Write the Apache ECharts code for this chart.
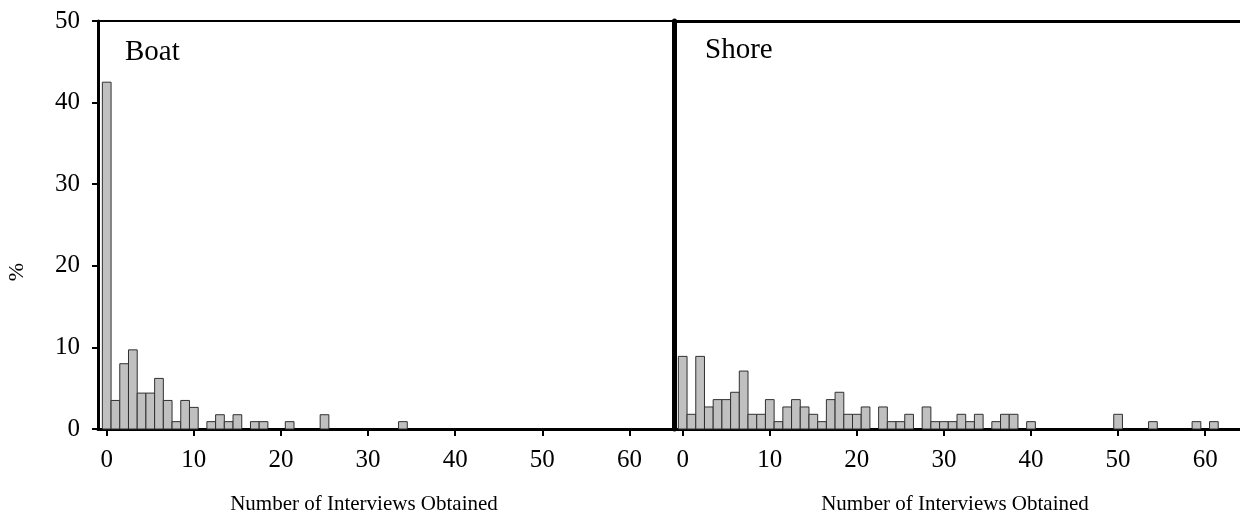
<!DOCTYPE html>
<html lang="en">
<head>
	<meta charset="UTF-8">
	<title>Number of Interviews Obtained</title>
	<script src="https://cdn.jsdelivr.net/npm/echarts@6/dist/echarts.min.js"></script>
	<style>
		html, body { margin: 0; padding: 0; background: #fff; }
		#chart { width: 1240px; height: 523px; }
	</style>
</head>
<body>
<div id="chart"></div>
<script>
	// interviews per trip (x) and share of trips in % (y)
	var boatCounts = [0, 1, 2, 3, 4, 5, 6, 7, 8, 9, 10, 12, 13, 14, 15, 17, 18, 21, 25, 34];
	var boatPct = [42.5, 3.5, 8.0, 9.7, 4.4, 4.4, 6.2, 3.5, 0.9, 3.5, 2.65, 0.9, 1.75, 0.9, 1.75, 0.9, 0.9, 0.9, 1.75, 0.9];

	var shoreCounts = [0, 1, 2, 3, 4, 5, 6, 7, 8, 9, 10, 11, 12, 13, 14, 15, 16, 17, 18, 19, 20, 21,
		23, 24, 25, 26, 28, 29, 30, 31, 32, 33, 34, 36, 37, 38, 40, 50, 54, 59, 61];
	var shorePct = [8.9, 1.8, 8.9, 2.7, 3.6, 3.6, 4.5, 7.1, 1.8, 1.8, 3.6, 0.9, 2.7, 3.6, 2.7, 1.8, 0.9, 3.6, 4.5, 1.8, 1.8, 2.7,
		2.7, 0.9, 0.9, 1.8, 2.7, 0.9, 0.9, 0.9, 1.8, 0.9, 1.8, 0.9, 1.8, 1.8, 0.9, 1.8, 0.9, 0.9, 0.9];

	var xTicks = [0, 10, 20, 30, 40, 50, 60];
	var panelNames = ['Boat', 'Shore'];
	var xTitle = 'Number of Interviews Obtained';
	var yTitle = '%';

	var font = '"Liberation Serif", "DejaVu Serif", serif';

	function pairs(xs, ys) {
		var out = [];
		for (var i = 0; i < xs.length; i++) out.push([xs[i], ys[i]]);
		return out;
	}

	// every bar spans one unit on the x axis, like a histogram
	function renderBar(params, api) {
		var x = api.value(0), y = api.value(1);
		var p0 = api.coord([x - 0.5, y]);
		var p1 = api.coord([x + 0.5, 0]);
		return {
			type: 'rect',
			shape: { x: p0[0], y: p0[1], width: p1[0] - p0[0], height: p1[1] - p0[1] },
			style: { fill: '#c0c0c0', stroke: '#303030', lineWidth: 1 }
		};
	}

	function xAxis(idx, max) {
		return {
			type: 'value', gridIndex: idx, min: -1, max: max,
			axisLine: { show: true, onZero: false, lineStyle: { color: '#000', width: 3 } },
			axisTick: { show: true, customValues: xTicks, length: 7, lineStyle: { color: '#000', width: 2 } },
			axisLabel: { customValues: xTicks, color: '#000', fontFamily: font, fontSize: 25, margin: 19 },
			splitLine: { show: false }
		};
	}

	// plain line on top of the shore panel (it has no right-hand border)
	function topLine(idx, max) {
		return {
			type: 'value', gridIndex: idx, position: 'top', min: -1, max: max,
			axisLine: { show: true, onZero: false, lineStyle: { color: '#000', width: 3 } },
			axisTick: { show: false }, axisLabel: { show: false }, splitLine: { show: false }
		};
	}

	var chart = echarts.init(document.getElementById('chart'));
	chart.setOption({
		animation: false,
		backgroundColor: '#fff',
		grid: [
			{ left: 98, top: 21, width: 575, height: 408, show: true, borderColor: '#000', borderWidth: 2, backgroundColor: 'transparent' },
			{ left: 674, top: 21, width: 566, height: 408 }
		],
		xAxis: [xAxis(0, 65), xAxis(1, 64), topLine(1, 64)],
		yAxis: [
			{
				type: 'value', gridIndex: 0, min: 0, max: 50, interval: 10,
				axisLine: { show: true, onZero: false, lineStyle: { color: '#000', width: 3 } },
				axisTick: { show: true, length: 6, lineStyle: { color: '#000', width: 2 } },
				axisLabel: { color: '#000', fontFamily: font, fontSize: 25, margin: 18 },
				splitLine: { show: false }
			},
			{
				type: 'value', gridIndex: 1, min: 0, max: 50, interval: 10,
				axisLine: { show: true, onZero: false, lineStyle: { color: '#000', width: 5 } },
				axisTick: { show: false },
				axisLabel: { show: false },
				splitLine: { show: false }
			}
		],
		series: [
			{ type: 'custom', xAxisIndex: 0, yAxisIndex: 0, renderItem: renderBar, data: pairs(boatCounts, boatPct) },
			{ type: 'custom', xAxisIndex: 1, yAxisIndex: 1, renderItem: renderBar, data: pairs(shoreCounts, shorePct) }
		],
		graphic: [
			{ type: 'text', left: 125, top: 38, style: { text: panelNames[0], font: '29px ' + font, fill: '#000' } },
			{ type: 'text', left: 705, top: 36, style: { text: panelNames[1], font: '29px ' + font, fill: '#000' } },
			{ type: 'text', x: 364, y: 504, style: { text: xTitle, font: '21px ' + font, fill: '#000', align: 'center', verticalAlign: 'middle' } },
			{ type: 'text', x: 955, y: 504, style: { text: xTitle, font: '21px ' + font, fill: '#000', align: 'center', verticalAlign: 'middle' } },
			{ type: 'text', x: 17, y: 272, rotation: Math.PI / 2, style: { text: yTitle, font: '22px ' + font, fill: '#000', align: 'center', verticalAlign: 'middle' } }
		]
	});
</script>
</body>
</html>
